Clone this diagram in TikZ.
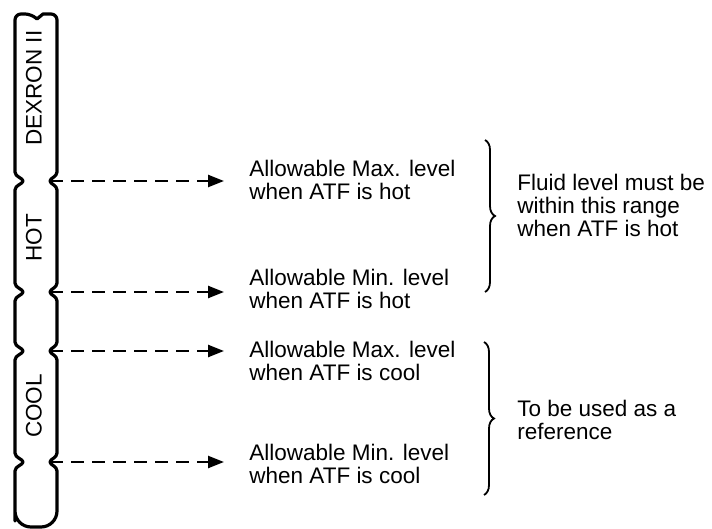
\documentclass[tikz,border=0pt]{standalone}
\usepackage{fontspec}
\setmainfont{Liberation Sans}
\usetikzlibrary{arrows.meta, decorations.pathreplacing}

\begin{document}
\begin{tikzpicture}[x=0.5pt, y=-0.5pt,
    stick/.style={line width=1.6pt, line join=round},
    level/.style={dash pattern=on 6.5pt off 4pt, line width=1.2pt, -{Triangle[length=8pt, width=6pt]}},
    note/.style={anchor=west, align=left, inner sep=0pt, font=\fontsize{11.25pt}{11.5pt}\selectfont},
    stickname/.style={rotate=90, inner sep=0pt, font=\fontsize{11.25pt}{11.5pt}\selectfont},
    rangebrace/.style={decorate, decoration={brace, amplitude=5pt}, line width=0.9pt}]
    \useasboundingbox (0,0) rectangle (712,529);

    % Define the notch tips on the right edge of the stick
    \coordinate (Rhmax) at (50,181);
    \coordinate (Rhmin) at (50,292);
    \coordinate (Rcmax) at (50,351);
    \coordinate (Rcmin) at (50,462);

    % Define the arrow ends
    \coordinate (Ahmax) at (224,181);
    \coordinate (Ahmin) at (224,292);
    \coordinate (Acmax) at (224,351);
    \coordinate (Acmin) at (224,462);

    % Draw the dipstick with its notches
    \draw[stick] (15,505)
        -- (15,471) .. controls (15,466) and (23,465) .. (23,462) .. controls (23,459) and (15,458) .. (15,453)
        -- (15,360) .. controls (15,355) and (23,354) .. (23,351) .. controls (23,348) and (15,347) .. (15,342)
        -- (15,301) .. controls (15,296) and (23,295) .. (23,292) .. controls (23,289) and (15,288) .. (15,283)
        -- (15,190) .. controls (15,185) and (23,184) .. (23,181) .. controls (23,178) and (15,177) .. (15,172)
        [rounded corners=3pt] -- (15,14) -- (31,14) [sharp corners] -- (37,19) -- (43,14)
        [rounded corners=3pt] -- (57,14) -- (57,40) [sharp corners]
        -- (57,172) .. controls (57,177) and (50,178) .. (Rhmax) .. controls (50,184) and (57,185) .. (57,190)
        -- (57,283) .. controls (57,288) and (50,289) .. (Rhmin) .. controls (50,295) and (57,296) .. (57,301)
        -- (57,342) .. controls (57,347) and (50,348) .. (Rcmax) .. controls (50,354) and (57,355) .. (57,360)
        -- (57,453) .. controls (57,458) and (50,459) .. (Rcmin) .. controls (50,465) and (57,466) .. (57,471)
        [rounded corners=8pt] -- (57,527) -- (15,527) -- cycle;

    % Label the stick
    \node[stickname] (dexron) at (34,88) {DEXRON II};
    \node[stickname] (hot) at (34,238) {HOT};
    \node[stickname] (cool) at (34,406) {COOL};

    % Draw the dashed arrows to the levels
    \draw[level] (Rhmax) -- (Ahmax);
    \draw[level] (Rhmin) -- (Ahmin);
    \draw[level] (Rcmax) -- (Acmax);
    \draw[level] (Rcmin) -- (Acmin);

    % Level texts
    \node[note] (hmax) at (249,180) {Allowable Max. level\\when ATF is hot};
    \node[note] (hmin) at (249,289) {Allowable Min. level\\when ATF is hot};
    \node[note] (cmax) at (249,361) {Allowable Max. level\\when ATF is cool};
    \node[note] (cmin) at (249,464) {Allowable Min. level\\when ATF is cool};

    % Braces and range texts
    \coordinate (Bhtop) at (485,140);
    \coordinate (Bhbot) at (485,292);
    \coordinate (Bctop) at (484,342);
    \coordinate (Bcbot) at (484,495);
    \draw[rangebrace] (Bhtop) -- (Bhbot);
    \draw[rangebrace] (Bctop) -- (Bcbot);
    \node[note] (hotrange) at (517,205) {Fluid level must be\\within this range\\when ATF is hot};
    \node[note] (reference) at (517,420) {To be used as a\\reference};
\end{tikzpicture}
\end{document}
